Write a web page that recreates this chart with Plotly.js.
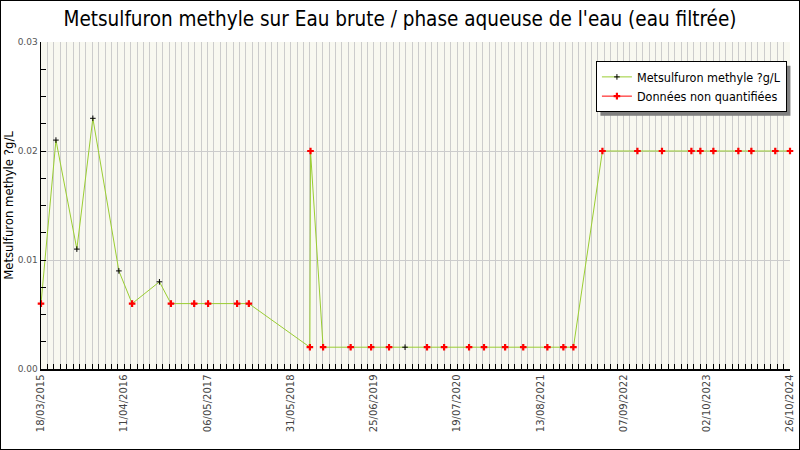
<!DOCTYPE html>
<html>
<head>
<meta charset="utf-8">
<script src="https://cdn.plot.ly/plotly-3.0.1.min.js"></script>
<style>
  html, body { margin: 0; padding: 0; background: #fff; }
  #chart { width: 800px; height: 450px; box-sizing: border-box; border: 1px solid #000; }
</style>
</head>
<body>
<div id="chart"></div>
<script>
// Sample dates, measured values and whether the value was non quantified (red)
const sampleDates = [
  '2015-03-18', '2015-05-27', '2015-09-02', '2015-11-16', '2016-03-17',
  '2016-05-18', '2016-09-23', '2016-11-16', '2017-03-05', '2017-05-09',
  '2017-09-22', '2017-11-16', '2018-08-29', '2018-09-01', '2018-10-30',
  '2019-03-08', '2019-06-12', '2019-09-04', '2019-11-18', '2020-02-29',
  '2020-05-19', '2020-09-13', '2020-11-22', '2021-03-01', '2021-05-25',
  '2021-09-15', '2021-11-29', '2022-01-15', '2022-05-31', '2022-11-11',
  '2023-03-06', '2023-07-22', '2023-09-02', '2023-11-02', '2024-02-27',
  '2024-04-28', '2024-08-18', '2024-10-26'
];
const sampleValues = [
  0.006, 0.021, 0.011, 0.023, 0.009,
  0.006, 0.008, 0.006, 0.006, 0.006,
  0.006, 0.006, 0.002, 0.020, 0.002,
  0.002, 0.002, 0.002, 0.002, 0.002,
  0.002, 0.002, 0.002, 0.002, 0.002,
  0.002, 0.002, 0.002, 0.020, 0.020,
  0.020, 0.020, 0.020, 0.020, 0.020,
  0.020, 0.020, 0.020
];
const nonQuantified = [
  1, 0, 0, 0, 0,
  1, 0, 1, 1, 1,
  1, 1, 1, 1, 1,
  1, 1, 1, 0, 1,
  1, 1, 1, 1, 1,
  1, 1, 1, 1, 1,
  1, 1, 1, 1, 1,
  1, 1, 1
];
const yTicks = [0, 0.01, 0.02, 0.03];

const DAY = 86400000;
const FONT = 'DejaVu Sans Condensed, DejaVu Sans, sans-serif';

// red points: separated by gaps so only the markers are drawn (legend keeps its line)
const nqX = [], nqY = [];
sampleDates.forEach((d, i) => {
  if (!nonQuantified[i]) return;
  nqX.push(d, null);
  nqY.push(sampleValues[i], null);
});

const traces = [
  {
    type: 'scatter',
    mode: 'lines+markers',
    name: 'Metsulfuron methyle ?g/L',
    x: sampleDates,
    y: sampleValues,
    line: { color: '#9acd32', width: 1 },
    marker: { symbol: 'cross-thin', size: 4, color: '#000', line: { color: '#000', width: 1 } },
    cliponaxis: false
  },
  {
    type: 'scatter',
    mode: 'lines+markers',
    name: 'Données non quantifiées',
    x: nqX,
    y: nqY,
    connectgaps: false,
    line: { color: '#ff0000', width: 1 },
    marker: { symbol: 'cross', size: 5.5, color: '#ff0000' },
    cliponaxis: false
  }
];

// pixel -> paper helpers (plot area 40.3..789 x 40.7..368.3 inside the 798x448 div)
const W = 748.7, H = 327.6;
const px = v => (v - 40.3) / W;
const py = v => (368.3 - v) / H;

const layout = {
  width: 798,
  height: 448,
  margin: { l: 40.3, r: 8.7, t: 40.7, b: 79.7 },
  paper_bgcolor: '#ffffff',
  plot_bgcolor: '#f8f8f0',
  font: { family: FONT, color: '#000' },
  title: {
    text: "Metsulfuron methyle sur Eau brute / phase aqueuse de l'eau (eau filtrée)",
    font: { family: FONT, size: 20.5, color: '#000' },
    x: 0.5, xanchor: 'center',
    yref: 'container', y: 1 - 18 / 448, yanchor: 'middle'
  },
  xaxis: {
    type: 'date',
    range: ['2015-03-18', '2024-10-26'],
    tick0: '2015-03-18',
    dtick: 390 * DAY,
    tickformat: '%d/%m/%Y',
    tickangle: -90,
    tickfont: { family: 'DejaVu Sans, sans-serif', size: 10, color: '#444' },
    ticks: 'inside', ticklen: 5, tickcolor: '#000', tickwidth: 1,
    showgrid: true, gridcolor: '#cccccc', gridwidth: 1,
    showline: true, linecolor: '#000', linewidth: 1.5,
    zeroline: false,
    minor: {
      tick0: '2015-03-18', dtick: 30 * DAY,
      ticks: 'inside', ticklen: 5, tickcolor: '#000', tickwidth: 1,
      showgrid: true, gridcolor: '#cccccc', gridwidth: 1
    },
    automargin: false
  },
  yaxis: {
    range: [0, 0.03],
    tickvals: yTicks,
    tickformat: '.2f',
    tickfont: { family: 'DejaVu Sans, sans-serif', size: 9, color: '#555' },
    ticks: 'inside', ticklen: 5, tickcolor: '#000', tickwidth: 1,
    showgrid: true, gridcolor: '#cccccc', gridwidth: 1,
    showline: true, linecolor: '#000', linewidth: 1.5,
    zeroline: false,
    minor: { dtick: 0.0025, ticks: 'inside', ticklen: 5, tickcolor: '#000', showgrid: false },
    title: {
      text: 'Metsulfuron methyle ?g/L',
      font: { family: FONT, size: 13, color: '#000' }
    },
    automargin: false
  },
  showlegend: true,
  legend: {
    x: px(595), y: py(60), xanchor: 'left', yanchor: 'top',
    bgcolor: '#ffffff', bordercolor: '#000', borderwidth: 1,
    font: { family: FONT, size: 12.5, color: '#000' },
    itemwidth: 30,
    tracegroupgap: 0
  }
};

Plotly.newPlot('chart', traces, layout, { displayModeBar: false, staticPlot: true }).then(gd => {
  // grey drop shadow 4px down-right of the legend box, drawn just under the legend group
  const leg = gd.querySelector('.legend');
  const bg = leg && leg.querySelector('.bg');
  if (!bg) return;
  const svg = leg.ownerSVGElement;
  const r = bg.getBoundingClientRect();
  const s = svg.getBoundingClientRect();
  const rect = document.createElementNS('http://www.w3.org/2000/svg', 'rect');
  rect.setAttribute('x', r.left - s.left + 4);
  rect.setAttribute('y', r.top - s.top + 4);
  rect.setAttribute('width', r.width);
  rect.setAttribute('height', r.height);
  rect.setAttribute('fill', '#808080');
  leg.parentNode.insertBefore(rect, leg);
});
</script>
</body>
</html>
